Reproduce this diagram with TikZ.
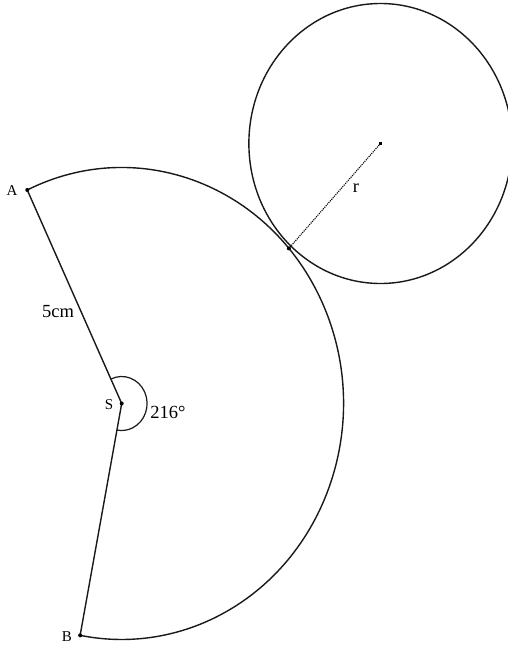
\documentclass[tikz,border=0pt]{standalone}
\usepackage{fontspec}
\setmainfont{Liberation Serif}
\begin{document}
\begin{tikzpicture}[x=1pt,y=1pt,
  edge/.style={line width=1.4pt,black!90},
  anglemark/.style={line width=1.2pt,black!90},
  radiusline/.style={densely dotted,line width=1.1pt},
  pt/.style={circle,fill,inner sep=0pt,minimum size=4pt},
  lab/.style={font=\fontsize{15}{15}\selectfont,inner sep=0pt},
  biglab/.style={font=\fontsize{18.5}{18.5}\selectfont,inner sep=0pt}]
\useasboundingbox (0,0) rectangle (508,-648);
\begin{scope}[shift={(121.7,-403.5)},xscale=0.94]
  \coordinate (S) at (0,0);
  \coordinate (A) at (115.2:236);
  \coordinate (B) at (-100.8:236);
  \coordinate (T) at (41.1:236);
  \coordinate (O) at (275.3,260);
  \coordinate (M) at (115.2:27);
  \draw[edge] (B) -- (S) -- (A) arc[start angle=115.2,end angle=-100.8,radius=236];
  \draw[edge] (O) circle[radius=140];
  \draw[anglemark] (M) arc[start angle=115.2,end angle=-100.8,radius=27];
  \draw[radiusline] (O) -- (T);
\end{scope}
\node[pt] (Sd) at (S) {};
\node[pt] (Ad) at (A) {};
\node[pt] (Bd) at (B) {};
\node[pt] (Td) at (T) {};
\node[pt,minimum size=3.5pt,rectangle] (Od) at (O) {};
\node[lab] (Al) at (12,-191) {A};
\node[lab] (Bl) at (67,-637) {B};
\node[lab] (Sl) at (109,-405) {S};
\node[biglab] (ang) at (168,-412) {216°};
\node[biglab] (len) at (58,-312) {5cm};
\node[biglab] (rl) at (356,-188) {r};
\end{tikzpicture}
\end{document}
